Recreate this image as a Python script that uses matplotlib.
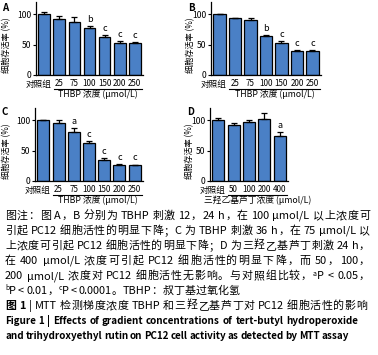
import matplotlib
matplotlib.use('Agg')
import matplotlib.pyplot as plt
from matplotlib.transforms import blended_transform_factory

plt.rcParams['font.family'] = ['Noto Sans CJK SC', 'DejaVu Sans']

# ---------------- data ----------------
cats_thbp = ['对照组', '25', '75', '100', '150', '200', '250']
a_vals = [101, 92, 87, 78, 62, 53, 52]
a_err = [3, 5, 8, 3, 3, 3, 2]
a_sig = ['', '', '', 'b', 'c', 'c', 'c']

b_vals = [100, 93, 90, 64, 52, 40, 40]
b_err = [1, 1, 4, 2, 4, 0.5, 0.5]
b_sig = ['', '', '', 'b', 'c', 'c', 'c']

c_vals = [100, 95, 80, 63, 35, 26, 26]
c_err = [0.5, 5, 7, 2, 2, 1.5, 1]
c_sig = ['', '', 'a', 'c', 'c', 'c', 'c']

cats_d = ['对照组', '50', '100', '200', '400']
d_vals = [100, 92, 97, 102, 74]
d_err = [3, 3, 4, 9, 6]
d_sig = ['', '', '', '', 'a']

ylabel = '细胞存活率 (%)'
xlabel_thbp = 'THBP 浓度 (μmol/L)'
xlabel_d = '三羟乙基芦丁浓度 (μmol/L)'
yticks = [0, 50, 100]

W, H = 378, 355
fig = plt.figure(figsize=(W / 100, H / 100), dpi=100)
BAR = '#4a80c6'


def rect(l, r, top, bottom):
    return [l / W, 1 - bottom / H, (r - l) / W, (bottom - top) / H]


def ftext(x, y, s, **kw):
    return fig.text(x / W, 1 - y / H, s, **kw)


def panel(box, cats, vals, errs, sigs, xlabel, letter, letter_xy, ylab_x):
    ax = fig.add_axes(rect(*box))
    n = len(cats)
    x = list(range(n))
    ax.bar(x, vals, width=0.78, color=BAR, edgecolor='black', linewidth=0.9, zorder=2)
    ax.errorbar(x, vals, yerr=[[0] * n, errs], fmt='none', ecolor='black',
                elinewidth=0.9, capsize=2.2, capthick=0.9, zorder=3)
    for xi, v, e, s in zip(x, vals, errs, sigs):
        if s:
            ax.annotate(s, (xi, v + e), xytext=(0, 1.5), textcoords='offset points',
                        ha='center', va='bottom', fontsize=6.5)
    ax.set_xlim(-0.55, n - 0.45)
    ax.set_ylim(0, 120)
    ax.set_yticks(yticks)
    ax.set_xticks(x)
    ax.set_xticklabels([''] * n)
    for sp in ['top', 'right']:
        ax.spines[sp].set_visible(False)
    for sp in ['left', 'bottom']:
        ax.spines[sp].set_linewidth(0.9)
    ax.tick_params(axis='y', length=2.5, width=0.8, pad=1, labelsize=6.2)
    ax.tick_params(axis='x', length=0)
    tr = blended_transform_factory(ax.transData, ax.transAxes)
    hpx = box[3] - box[2]
    # category labels
    for xi, c in zip(x, cats):
        if xi == 0:
            ax.text(xi + 0.45, -9 / hpx, c, transform=tr, ha='right', va='center', fontsize=6.2)
        else:
            ax.text(xi, -9 / hpx, c, transform=tr, ha='center', va='center', fontsize=5.8)
    # group underline under numeric labels
    yl = -13.5 / hpx
    ax.plot([0.62, n - 0.5], [yl, yl], transform=tr, color='black', lw=0.8, clip_on=False)
    ax.text((0.62 + n - 0.5) / 2, -19.5 / hpx, xlabel, transform=tr, ha='center', va='center',
            fontsize=6.3)
    ftext(letter_xy[0], letter_xy[1], letter, fontsize=7, fontweight='bold', ha='center', va='center')
    ftext(ylab_x, (box[2] + box[3]) / 2 + 7, ylabel, rotation=90, fontsize=5.9,
          ha='center', va='center')
    return ax


panel((36, 143, 2, 75), cats_thbp, a_vals, a_err, a_sig, xlabel_thbp, 'A', (5, 8), 7)
panel((211, 321, 2, 75), cats_thbp, b_vals, b_err, b_sig, xlabel_thbp, 'B', (191, 8), 191)
panel((35, 143, 108, 181), cats_thbp, c_vals, c_err, c_sig, xlabel_thbp, 'C', (5, 112), 7)
panel((210, 288, 108, 181), cats_d, d_vals, d_err, d_sig, xlabel_d, 'D', (191, 112), 190)

# ---------------- caption ----------------
fig.canvas.draw()
renderer = fig.canvas.get_renderer()

FS = 7.9
X0, X1 = 5, 370


def is_cjk(ch):
    o = ord(ch)
    return (0x3000 <= o <= 0x9fff) or (0xff00 <= o <= 0xffef)


def tokenize(runs):
    toks = []
    for txt, props in runs:
        buf = ''
        for ch in txt:
            if is_cjk(ch) or ch == ' ':
                if buf:
                    toks.append((buf, props))
                    buf = ''
                toks.append((ch, props))
            else:
                buf += ch
        if buf:
            toks.append((buf, props))
    return toks


def build(runs, fs, weight):
    toks = tokenize(runs)
    items = []
    for txt, props in toks:
        kw = dict(fontsize=props.get('fs', fs), fontweight=props.get('weight', weight),
                  fontstyle=props.get('style', 'normal'), va='baseline', ha='left')
        if txt == ' ':
            t = fig.text(0, 0, 'a a', **kw)
            wd = t.get_window_extent(renderer).width
            t2 = fig.text(0, 0, 'aa', **kw)
            wd -= t2.get_window_extent(renderer).width
            t.remove()
            t2.remove()
            items.append((None, wd * 0.8, props))
        else:
            t = fig.text(0, 0, txt, **kw)
            items.append((t, t.get_window_extent(renderer).width, props))
    return items


def place(items, y, justify, x1=X1):
    total = sum(i[1] for i in items)
    gaps = len(items) - 1
    extra = (x1 - X0 - total) / gaps if (justify and gaps > 0) else 0.0
    x = X0
    for t, wd, props in items:
        if t is not None:
            t.set_position((x / W, 1 - (y - props.get('dy', 0)) / H))
        x += wd + extra


def draw_line(y, runs, justify=True, fs=FS, weight='normal', x1=X1):
    place(build(runs, fs, weight), y, justify, x1)


def fit_fs(runs, fs, weight, target):
    items = build(runs, fs, weight)
    total = sum(i[1] for i in items)
    for t, _, _ in items:
        if t is not None:
            t.remove()
    return fs * target / total


n = {}
it = {'style': 'italic'}
sup = {'fs': 5, 'dy': 3.5}
bold = {'weight': 'bold'}
lines = [
    [('图注：图 A，B 分别为 TBHP 刺激 12，24 h，在 100 μmol/L 以上浓度可', n)],
    [('引起 PC12 细胞活性的明显下降；C 为 TBHP 刺激 36 h，在 75 μmol/L 以', n)],
    [('上浓度可引起 PC12 细胞活性的明显下降；D 为三羟乙基芦丁刺激 24 h，', n)],
    [('在 400 μmol/L 浓度可引起 PC12 细胞活性的明显下降，而 50，100，', n)],
    [('200 μmol/L 浓度对 PC12 细胞活性无影响。与对照组比较，', n), ('a', sup), ('P', it), (' < 0.05，', n)],
    [('b', sup), ('P', it), (' < 0.01，', n), ('c', sup), ('P', it), (' < 0.0001。TBHP：叔丁基过氧化氢', n)],
]
ys = [219, 234, 249, 264, 279, 294]
for y, r in zip(ys, lines):
    draw_line(y, r, justify=(y != 294))

draw_line(309, [('图 1', bold), (' | MTT 检测梯度浓度 TBHP 和三羟乙基芦丁对 PC12 细胞活性的影响', n)],
          justify=True, x1=367)

eng1 = [('Figure 1 | Effects of gradient concentrations of tert-butyl hydroperoxide', n)]
eng2 = [('and trihydroxyethyl rutin on PC12 cell activity as detected by MTT assay', n)]
efs = fit_fs(eng2, 7.5, 'bold', 347)
draw_line(324, eng1, justify=True, fs=efs, weight='bold', x1=358)
draw_line(339, eng2, justify=False, fs=efs, weight='bold')

fig.savefig('out.png', dpi=100)
